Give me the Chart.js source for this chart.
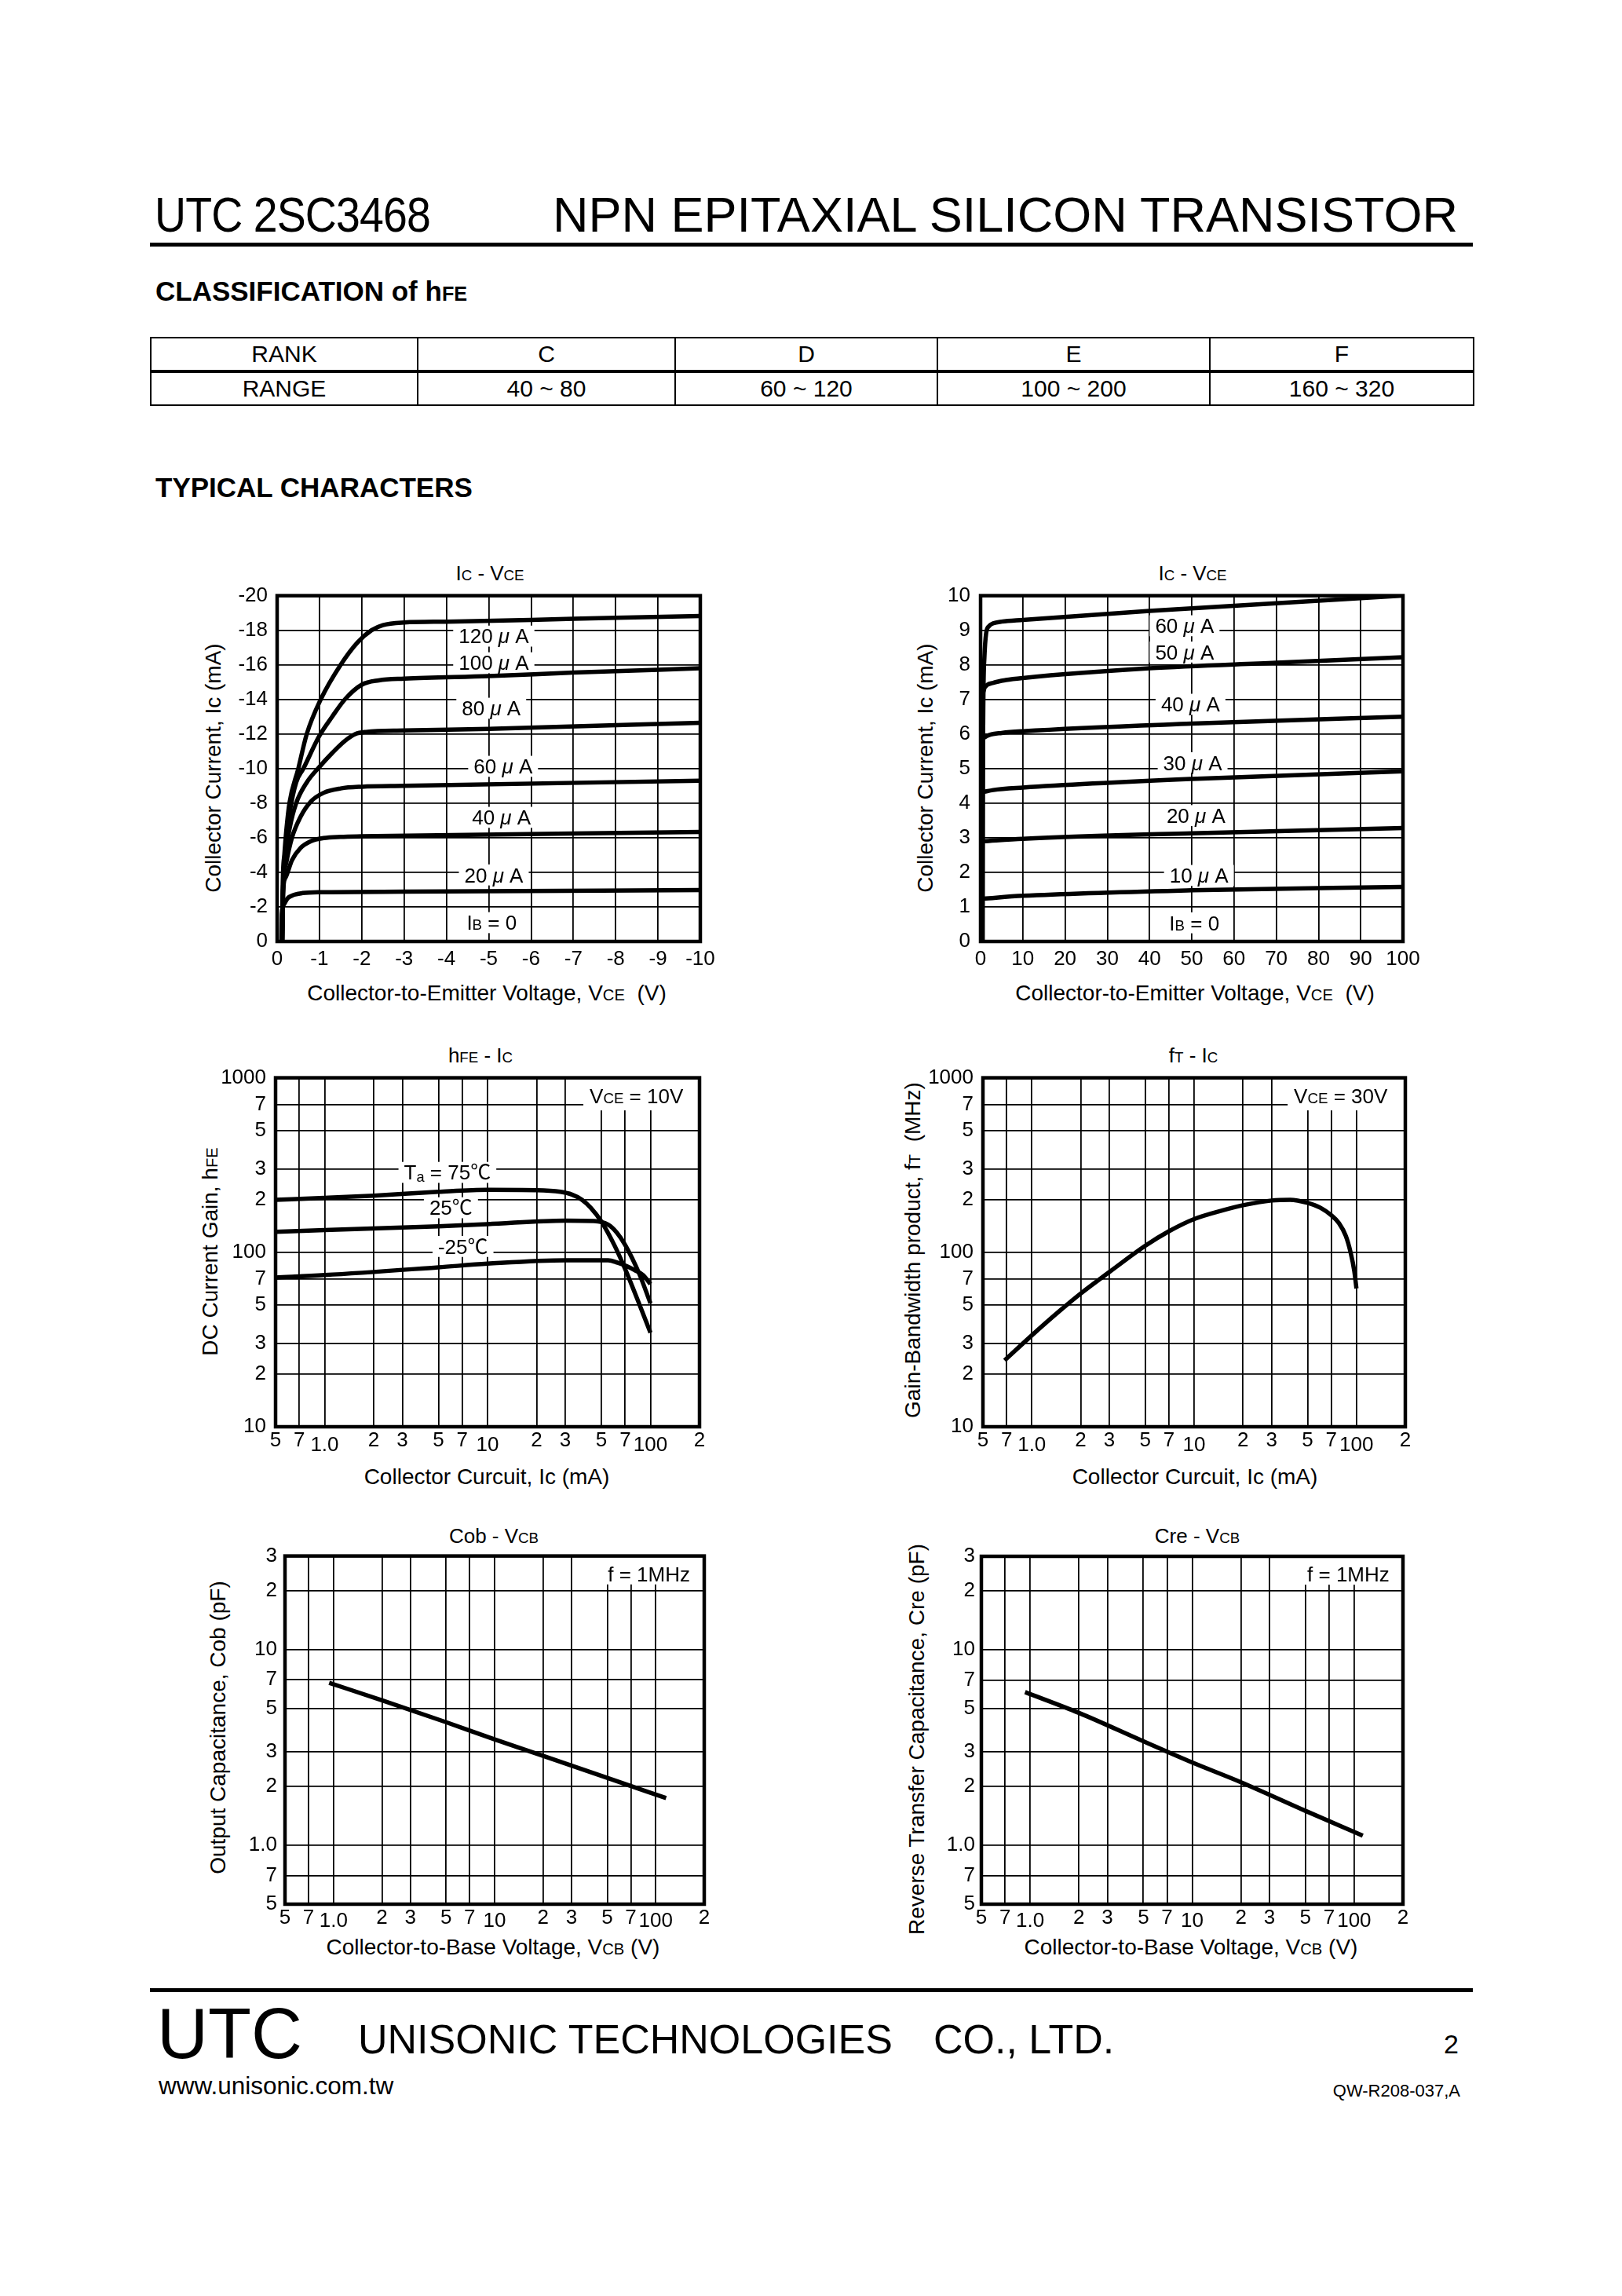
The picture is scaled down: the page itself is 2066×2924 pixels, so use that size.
<!DOCTYPE html>
<html><head><meta charset="utf-8">
<script src="https://cdn.jsdelivr.net/npm/chart.js@4.4.1/dist/chart.umd.min.js"></script>
<style>
html,body{margin:0;padding:0;background:#fff;}
body{width:2066px;height:2924px;position:relative;overflow:hidden;font-family:'Liberation Sans',Arial,'Noto Sans CJK SC',sans-serif;color:#000;}
.t{position:absolute;line-height:1;white-space:nowrap;}
.s{font-size:72%;}
.c{transform:translate(-50%,-50%);}
.r{transform:translate(-50%,-50%) rotate(-90deg);}
.ct{font-size:26px;}
.at{font-size:28px;}
.rule{position:absolute;background:#000;}
canvas{position:absolute;}
table{position:absolute;border-collapse:collapse;table-layout:fixed;left:191px;top:429px;width:1685px;}
td{border:2.5px solid #000;text-align:center;font-size:30px;height:40px;padding:0;line-height:1;}
tr:first-child td{border-bottom:4.5px solid #000;}
</style></head><body>

<div class="t" style="left:197px;top:242px;font-size:63px;transform:scaleX(0.88);transform-origin:left center;letter-spacing:-1px;">UTC 2SC3468</div>
<div class="t" style="left:704px;top:242px;font-size:63px;">NPN EPITAXIAL SILICON TRANSISTOR</div>
<div class="rule" style="left:191px;top:309px;width:1685px;height:5px;"></div>
<div class="t" style="left:198px;top:353px;font-size:35px;font-weight:bold;">CLASSIFICATION of h<span class="s">FE</span></div>

<table>
<colgroup><col style="width:340px"><col style="width:328px"><col style="width:334px"><col style="width:347px"><col style="width:336px"></colgroup>
<tr><td>RANK</td><td>C</td><td>D</td><td>E</td><td>F</td></tr>
<tr><td>RANGE</td><td>40 ~ 80</td><td>60 ~ 120</td><td>100 ~ 200</td><td>160 ~ 320</td></tr>
</table>

<div class="t" style="left:198px;top:603px;font-size:35px;font-weight:bold;">TYPICAL CHARACTERS</div>

<!-- chart titles -->
<div class="t c ct" style="left:624px;top:730px;">I<span class="s">C</span> - V<span class="s">CE</span></div>
<div class="t c ct" style="left:1519px;top:730px;">I<span class="s">C</span> - V<span class="s">CE</span></div>
<div class="t c ct" style="left:612px;top:1344px;">h<span class="s">FE</span> - I<span class="s">C</span></div>
<div class="t c ct" style="left:1520px;top:1344px;">f<span class="s">T</span> - I<span class="s">C</span></div>
<div class="t c ct" style="left:629px;top:1956px;">Cob - V<span class="s">CB</span></div>
<div class="t c ct" style="left:1525px;top:1956px;">Cre - V<span class="s">CB</span></div>

<!-- x axis titles -->
<div class="t c at" style="left:620px;top:1265px;">Collector-to-Emitter Voltage, V<span class="s">CE</span>&nbsp; (V)</div>
<div class="t c at" style="left:1522px;top:1265px;">Collector-to-Emitter Voltage, V<span class="s">CE</span>&nbsp; (V)</div>
<div class="t c at" style="left:620px;top:1881px;">Collector Curcuit, Ic (mA)</div>
<div class="t c at" style="left:1522px;top:1881px;">Collector Curcuit, Ic (mA)</div>
<div class="t c at" style="left:628px;top:2480px;">Collector-to-Base Voltage, V<span class="s">CB</span> (V)</div>
<div class="t c at" style="left:1517px;top:2480px;">Collector-to-Base Voltage, V<span class="s">CB</span> (V)</div>

<!-- y axis titles -->
<div class="t r at" style="left:272px;top:978px;">Collector Current, Ic (mA)</div>
<div class="t r at" style="left:1179px;top:978px;">Collector Current, Ic (mA)</div>
<div class="t r at" style="left:268px;top:1594px;">DC Current Gain, h<span class="s">FE</span></div>
<div class="t r at" style="left:1163px;top:1592px;">Gain-Bandwidth product, f<span class="s">T</span>&nbsp; (MHz)</div>
<div class="t r at" style="left:278px;top:2200px;">Output Capacitance, Cob (pF)</div>
<div class="t r at" style="left:1168px;top:2215px;">Reverse Transfer Capacitance, Cre (pF)</div>

<canvas id="c1"></canvas>
<canvas id="c2"></canvas>
<canvas id="c3"></canvas>
<canvas id="c4"></canvas>
<canvas id="c5"></canvas>
<canvas id="c6"></canvas>

<!-- footer -->
<div class="rule" style="left:191px;top:2532px;width:1685px;height:5px;"></div>
<div class="t" style="left:200px;top:2545px;font-size:90px;">UTC</div>
<div class="t" style="left:456px;top:2571px;font-size:52px;">UNISONIC TECHNOLOGIES</div>
<div class="t" style="left:1189px;top:2571px;font-size:52px;">CO., LTD.</div>
<div class="t" style="left:1839px;top:2586px;font-size:34px;">2</div>
<div class="t" style="left:202px;top:2641px;font-size:31.5px;">www.unisonic.com.tw</div>
<div class="t" style="right:206px;top:2652px;font-size:22px;">QW-R208-037,A</div>

<script>
// ================= DATA =================
// Chart 1: Ic - Vce (low voltage), values [Vce (V), Ic (mA)]
const VCE1_TICKS = [0,-1,-2,-3,-4,-5,-6,-7,-8,-9,-10];
const IC1_TICKS  = [0,-2,-4,-6,-8,-10,-12,-14,-16,-18,-20];
const IB120 = [[-0.12,0],[-0.13,-3],[-0.17,-5],[-0.22,-6.5],[-0.29,-8],[-0.5,-10],[-0.7,-12],[-1.03,-14],[-1.5,-16],[-1.9,-17.3],[-2.23,-18],[-2.5,-18.3],[-3,-18.45],[-4,-18.5],[-6,-18.6],[-8,-18.72],[-10,-18.82]];
const IB100 = [[-0.12,0],[-0.14,-3],[-0.2,-5.5],[-0.3,-7.5],[-0.45,-9.2],[-0.62,-10],[-1.0,-11.9],[-1.3,-13.0],[-1.6,-14.0],[-2.0,-14.85],[-2.4,-15.1],[-3,-15.2],[-5,-15.35],[-7,-15.55],[-10,-15.8]];
const IB80  = [[-0.12,0],[-0.14,-3],[-0.2,-5],[-0.3,-6.6],[-0.45,-8],[-0.7,-9.2],[-1.0,-10.1],[-1.3,-10.9],[-1.6,-11.6],[-1.85,-12.0],[-2.1,-12.12],[-3,-12.2],[-5,-12.3],[-10,-12.65]];
const IB60  = [[-0.12,0],[-0.14,-2.8],[-0.22,-4.6],[-0.35,-6],[-0.55,-7.2],[-0.8,-8.1],[-1.1,-8.6],[-1.5,-8.85],[-2,-8.95],[-3,-9.0],[-10,-9.3]];
const IB40  = [[-0.12,0],[-0.13,-2.5],[-0.2,-3.7],[-0.35,-4.7],[-0.55,-5.4],[-0.8,-5.8],[-1.1,-5.98],[-1.5,-6.05],[-2,-6.08],[-10,-6.33]];
const IB20  = [[-0.1,0],[-0.11,-1.6],[-0.15,-2.1],[-0.25,-2.5],[-0.4,-2.7],[-0.6,-2.8],[-1,-2.85],[-3,-2.88],[-10,-2.97]];

// Chart 2: Ic - Vce (high voltage)
const VCE2_TICKS = [0,10,20,30,40,50,60,70,80,90,100];
const IC2_TICKS  = [0,1,2,3,4,5,6,7,8,9,10];
const IB60H = [[0.5,0],[0.6,6],[0.9,8.2],[1.3,8.9],[2,9.12],[3,9.2],[5,9.25],[10,9.3],[40,9.56],[70,9.78],[100,10.0]];
const IB50H = [[0.6,7.2],[1,7.35],[3,7.48],[6,7.56],[10,7.62],[40,7.9],[70,8.06],[100,8.22]];
const IB40H = [[0.6,5.88],[2,5.97],[5,6.03],[10,6.08],[50,6.3],[100,6.5]];
const IB30H = [[0.6,4.32],[3,4.38],[10,4.45],[50,4.7],[100,4.92]];
const IB20H = [[0.6,2.9],[10,2.97],[50,3.13],[100,3.28]];
const IB10H = [[0.6,1.24],[10,1.32],[50,1.48],[100,1.58]];

// Log axes ticks
const LOG_X_TICKS  = [0.5,0.7,1,2,3,5,7,10,20,30,50,70,100,200];
const LOG_X_LABELS = ['5','7','1.0','2','3','5','7','10','2','3','5','7','100','2'];
const LOG_X_LOW    = [1,10,100];
const GAIN_TICKS   = [10,20,30,50,70,100,200,300,500,700,1000];
const GAIN_LABELS  = ['10','2','3','5','7','100','2','3','5','7','1000'];
const CAP_TICKS    = [0.5,0.7,1,2,3,5,7,10,20,30];
const CAP_LABELS   = ['5','7','1.0','2','3','5','7','10','2','3'];

// Chart 3: hFE - Ic
const HFE_75  = [[0.5,200],[1,205],[2,211],[5,222],[10,228],[20,227],[28,222],[33,214],[38,200],[43,180],[50,150],[60,110],[70,80],[85,51],[100,34.6]];
const HFE_25  = [[0.5,131],[1,134],[5,141],[10,145],[30,152],[45,151],[55,144],[62,130],[70,110],[85,76],[100,51]];
const HFE_M25 = [[0.5,71.7],[1,74],[5,82],[10,86],[30,90],[55,90],[63,87],[72,83],[80,79],[90,74],[100,65.7]];

// Chart 4: fT - Ic
const FT = [[0.68,24],[1,33.4],[1.5,46.5],[2,58],[3,77],[5,109],[7,132],[10,155],[15,174],[20,186],[30,198],[39,200],[50,192],[60,180],[70,163],[78,147],[86,124],[92,100],[97,78],[100,62]];

// Chart 5: Cob - Vcb
const COB = [[0.94,6.75],[2,5.5],[5,4.25],[10,3.47],[20,2.86],[50,2.21],[116,1.74]];
// Chart 6: Cre - Vcb
const CRE = [[0.93,6.07],[2,4.75],[5,3.4],[10,2.65],[20,2.1],[50,1.5],[113,1.12]];

// Annotation texts (anchored in data units); part = [text, scale, dy, style]
const MU = ['μ',1,0,'italic'];
const C1_NOTES = [
  {x:-5.12,y:-17.66,parts:[['120 '],MU,[' A']]},
  {x:-5.12,y:-16.12,parts:[['100 '],MU,[' A']]},
  {x:-5.06,y:-13.49,parts:[['80 '],MU,[' A']]},
  {x:-5.34,y:-10.13,parts:[['60 '],MU,[' A']]},
  {x:-5.3, y:-7.18, parts:[['40 '],MU,[' A']]},
  {x:-5.12,y:-3.85, parts:[['20 '],MU,[' A']]},
  {x:-5.07,y:-1.09, parts:[['I'],['B',0.72],[' = 0']]}
];
const C2_NOTES = [
  {x:48.3,y:9.13,parts:[['60 '],MU,[' A']]},
  {x:48.3,y:8.37,parts:[['50 '],MU,[' A']]},
  {x:49.7,y:6.86,parts:[['40 '],MU,[' A']]},
  {x:50.2,y:5.17,parts:[['30 '],MU,[' A']]},
  {x:51,  y:3.64,parts:[['20 '],MU,[' A']]},
  {x:51.7,y:1.91,parts:[['10 '],MU,[' A']]},
  {x:50.6,y:0.54,parts:[['I'],['B',0.72],[' = 0']]}
];
const C3_NOTES = [
  {x:5.67,y:287,parts:[['T'],['a',0.7,0.12],[' = 75℃']]},
  {x:5.96,y:180,parts:[['25℃']]},
  {x:7.07,y:108,parts:[['-25℃']]},
  {x:82,y:787,parts:[['V'],['CE',0.72],[' = 10V']],pad:[22,30,9,8]}
];
const C4_NOTES = [
  {x:80,y:787,parts:[['V'],['CE',0.72],[' = 30V']],pad:[22,30,9,8]}
];
const C5_NOTES = [{x:90.8,y:24.3,parts:[['f = 1MHz']],pad:[22,30,4,16]}];
const C6_NOTES = [{x:92,y:24.3,parts:[['f = 1MHz']],pad:[22,30,4,16]}];

// ================= RENDERING =================
const FONT = "'Liberation Sans', Arial, 'Noto Sans CJK SC', sans-serif";
Chart.defaults.font.family = FONT;
Chart.defaults.color = '#000';
const NOTE_SIZE = 26;
const TICK_SIZE = 26;

function partFont(p, size) {
  return (p[3] ? p[3] + ' ' : '') + (size*(p[1]||1)) + 'px ' + FONT;
}
function measureParts(ctx, parts, size) {
  return parts.map(p => { ctx.font = partFont(p, size); return ctx.measureText(p[0]).width; });
}

const notePlugin = {
  id: 'notes',
  beforeDatasetsDraw(chart, args, opts) {
    const ctx = chart.ctx, xs = chart.scales.x, ys = chart.scales.y, a = chart.chartArea;
    (opts.items || []).forEach(it => {
      const px = xs.getPixelForValue(it.x), py = ys.getPixelForValue(it.y);
      const ws = measureParts(ctx, it.parts, NOTE_SIZE);
      const tw = ws.reduce((s,v)=>s+v,0);
      const pad = it.pad || [4,7,4,7];
      const half = NOTE_SIZE*0.36;
      ctx.save();
      ctx.beginPath(); ctx.rect(a.left, a.top, a.right-a.left, a.bottom-a.top); ctx.clip();
      ctx.fillStyle = '#fff';
      ctx.fillRect(px - tw/2 - pad[3], py - half - pad[0], tw + pad[1] + pad[3], 2*half + pad[0] + pad[2]);
      ctx.restore();
      ctx.save();
      ctx.fillStyle = '#000'; ctx.textBaseline = 'alphabetic'; ctx.textAlign = 'left';
      let x = px - tw/2; const base = py + NOTE_SIZE*0.358;
      it.parts.forEach((p,i) => {
        ctx.font = partFont(p, NOTE_SIZE);
        ctx.fillText(p[0], x, base + (p[2]||0)*NOTE_SIZE);
        x += ws[i];
      });
      ctx.restore();
    });
  },
  afterDraw(chart) {
    const ctx = chart.ctx, a = chart.chartArea;
    ctx.save(); ctx.strokeStyle = '#000'; ctx.lineWidth = 4.5;
    ctx.strokeRect(a.left, a.top, a.right-a.left, a.bottom-a.top);
    ctx.restore();
  }
};

function axis(a) {
  const lab = {};
  a.ticks.forEach((v,i) => { lab[String(v)] = a.labels ? a.labels[i] : String(v); });
  return {
    type: a.log ? 'logarithmic' : 'linear',
    min: a.min, max: a.max, reverse: !!a.reverse, bounds: 'data',
    afterBuildTicks(s) { s.ticks = a.ticks.map(v => ({value: v})); },
    ticks: {
      autoSkip: false, maxRotation: 0, minRotation: 0, padding: a.pad,
      callback: (v) => lab[String(v)] !== undefined ? lab[String(v)] : '',
      font: (ctx) => ({size: TICK_SIZE, family: FONT,
        lineHeight: (a.low && ctx.tick && a.low.indexOf(ctx.tick.value) >= 0) ? a.lowLH : 1.2})
    },
    grid: {color: '#000', lineWidth: 1.8, drawTicks: false},
    border: {display: false}
  };
}

function makeChart(id, rect, series, xa, ya, notes) {
  const PADL = 100, PADT = 25, PADR = 40, PADB = 50;
  const c = document.getElementById(id);
  const w = rect.R - rect.L + PADL + PADR, h = rect.B - rect.T + PADT + PADB;
  c.width = w; c.height = h;
  c.style.left = (rect.L - PADL) + 'px'; c.style.top = (rect.T - PADT) + 'px';
  c.style.width = w + 'px'; c.style.height = h + 'px';
  const xo = axis(xa), yo = axis(ya);
  xo.afterFit = (s) => { s.height = PADB; };
  yo.afterFit = (s) => { s.width = PADL; };
  new Chart(c, {
    type: 'line',
    data: { datasets: series.map(s => ({
      data: s.map(p => ({x: p[0], y: p[1]})),
      borderColor: '#000', borderWidth: 5.5, pointRadius: 0, fill: false,
      cubicInterpolationMode: 'monotone', borderCapStyle: 'butt', borderJoinStyle: 'round'
    })) },
    options: {
      responsive: false, animation: false, devicePixelRatio: 1,
      layout: {padding: {left: 0, top: PADT, right: PADR, bottom: 0}},
      plugins: {legend: {display: false}, tooltip: {enabled: false}, notes: {items: notes}},
      scales: {x: xo, y: yo}
    },
    plugins: [notePlugin]
  });
}

makeChart('c1', {L:353,T:756,R:892,B:1199}, [IB120,IB100,IB80,IB60,IB40,IB20],
  {min:-10,max:0,reverse:true,ticks:VCE1_TICKS,pad:7},
  {min:-20,max:0,reverse:true,ticks:IC1_TICKS,pad:12}, C1_NOTES);
makeChart('c2', {L:1249,T:755,R:1787,B:1199}, [IB60H,IB50H,IB40H,IB30H,IB20H,IB10H],
  {min:0,max:100,ticks:VCE2_TICKS,pad:7},
  {min:0,max:10,ticks:IC2_TICKS,pad:13}, C2_NOTES);
makeChart('c3', {L:351,T:1370,R:891,B:1817}, [HFE_75,HFE_25,HFE_M25],
  {log:true,min:0.5,max:200,ticks:LOG_X_TICKS,labels:LOG_X_LABELS,low:LOG_X_LOW,lowLH:1.68,pad:2},
  {log:true,min:10,max:1000,ticks:GAIN_TICKS,labels:GAIN_LABELS,pad:12}, C3_NOTES);
makeChart('c4', {L:1252,T:1370,R:1790,B:1817}, [FT],
  {log:true,min:0.5,max:200,ticks:LOG_X_TICKS,labels:LOG_X_LABELS,low:LOG_X_LOW,lowLH:1.68,pad:2},
  {log:true,min:10,max:1000,ticks:GAIN_TICKS,labels:GAIN_LABELS,pad:12}, C4_NOTES);
makeChart('c5', {L:363,T:1981,R:897,B:2425}, [COB],
  {log:true,min:0.5,max:200,ticks:LOG_X_TICKS,labels:LOG_X_LABELS,low:LOG_X_LOW,lowLH:1.52,pad:2},
  {log:true,min:0.5,max:30,ticks:CAP_TICKS,labels:CAP_LABELS,pad:10}, C5_NOTES);
makeChart('c6', {L:1250,T:1982,R:1787,B:2425}, [CRE],
  {log:true,min:0.5,max:200,ticks:LOG_X_TICKS,labels:LOG_X_LABELS,low:LOG_X_LOW,lowLH:1.52,pad:2},
  {log:true,min:0.5,max:30,ticks:CAP_TICKS,labels:CAP_LABELS,pad:8}, C6_NOTES);
</script>
</body></html>
